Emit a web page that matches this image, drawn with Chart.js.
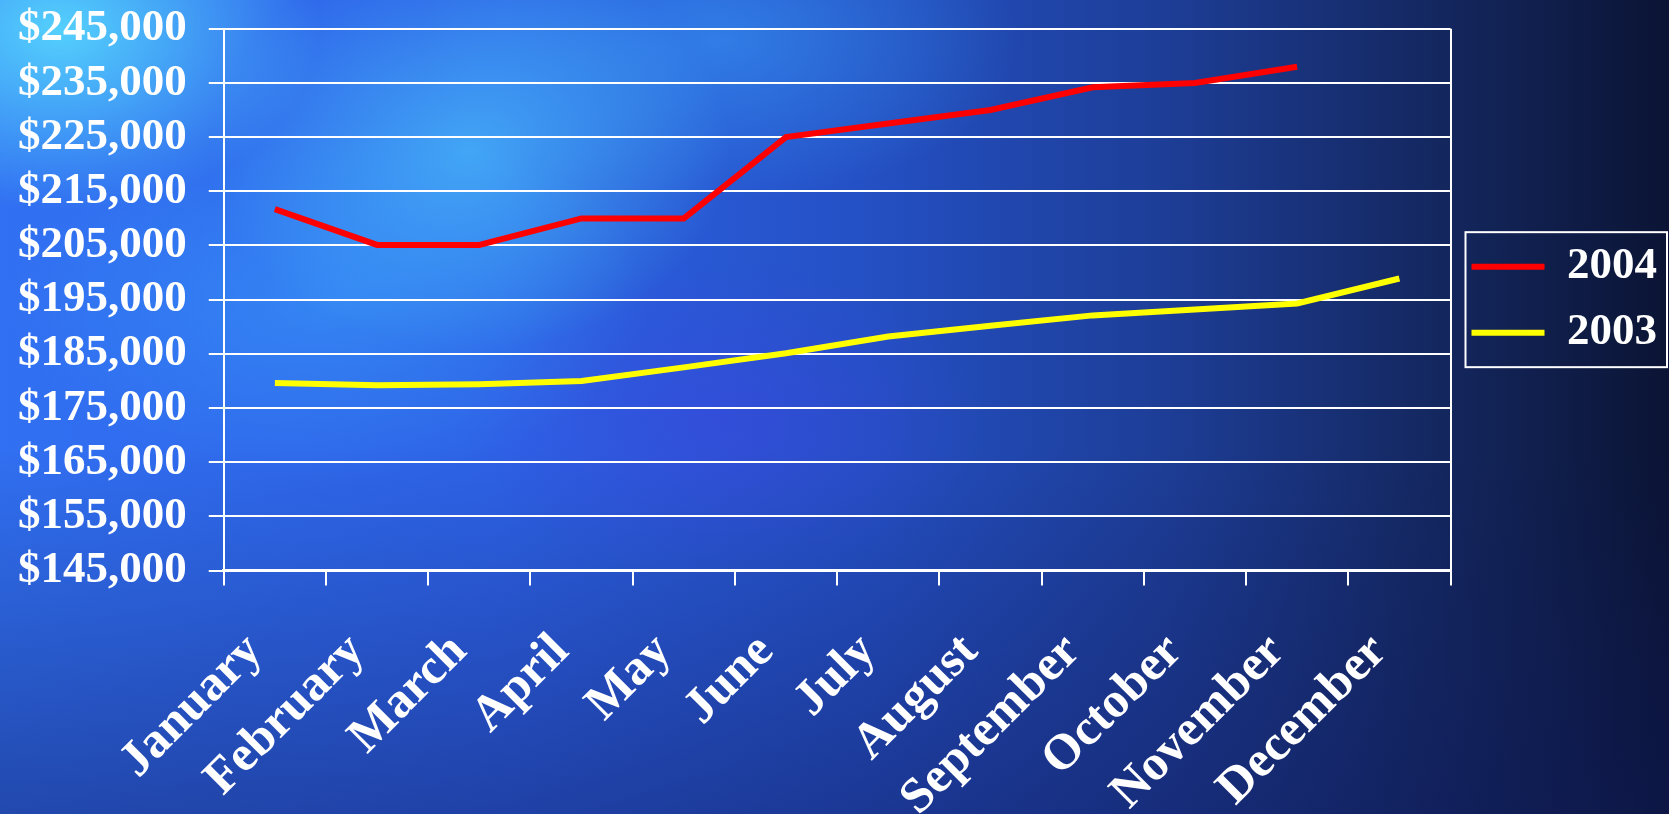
<!DOCTYPE html>
<html>
<head>
<meta charset="utf-8">
<title>Monthly values 2003 vs 2004</title>
<script src="https://cdn.jsdelivr.net/npm/chart.js@4.4.1/dist/chart.umd.min.js"></script>
<style>
  html, body { margin: 0; padding: 0; }
  body {
    width: 1669px; height: 814px; overflow: hidden;
    background:
      radial-gradient(ellipse 260px 180px at 60px 30px, rgba(90,225,255,.85), rgba(90,225,255,0)),
      radial-gradient(ellipse 260px 200px at 470px 150px, rgba(80,210,255,.6), rgba(80,210,255,0)),
      radial-gradient(ellipse 320px 180px at 330px 300px, rgba(60,170,255,.45), rgba(60,170,255,0)),
      radial-gradient(ellipse 300px 160px at 720px 40px, rgba(60,170,255,.45), rgba(60,170,255,0)),
      radial-gradient(ellipse 260px 160px at 720px 420px, rgba(70,60,230,.35), rgba(70,60,230,0)),
      linear-gradient(to bottom, rgba(0,0,0,0) 55%, rgba(15,25,90,.45) 100%),
      linear-gradient(to right, #3170f2 0%, #2d62e6 30%, #2450c4 52%, #1d3d96 70%, #152a66 84%, #0b1434 100%);
  }
  #wrap { position: absolute; left: 0; top: 0; width: 1669px; height: 814px; }
</style>
</head>
<body>
<div id="wrap"><canvas id="chart"></canvas></div>
<script>
/* chart data */
const MONTHS = ['January', 'February', 'March', 'April', 'May', 'June',
                'July', 'August', 'September', 'October', 'November', 'December'];
const SERIES_2004 = [211700, 205100, 205100, 210000, 210000, 225000,
                     227500, 230000, 234200, 235000, 238000, null];
const SERIES_2003 = [179600, 179200, 179400, 180000, 182500, 185100,
                     188200, 190200, 192100, 193200, 194300, 198900];
const Y_MIN = 145000, Y_MAX = 245000, Y_STEP = 10000;

const FONT = "'Liberation Serif', 'Times New Roman', serif";

/* draws a white frame round the legend items */
const legendFrame = {
  id: 'legendFrame',
  afterDraw(chart) {
    const boxes = chart.legend && chart.legend.legendHitBoxes;
    if (!boxes || !boxes.length) return;
    const l = Math.min(...boxes.map(b => b.left)) - 6;
    const r = Math.max(...boxes.map(b => b.left + b.width)) + 10;
    const t = Math.min(...boxes.map(b => b.top)) - 12;
    const bt = Math.max(...boxes.map(b => b.top + b.height)) + 12;
    const ctx = chart.ctx;
    ctx.save();
    ctx.strokeStyle = '#fff';
    ctx.lineWidth = 2;
    ctx.strokeRect(l, t, r - l, bt - t);
    ctx.restore();
  }
};

new Chart(document.getElementById('chart'), {
  type: 'line',
  data: {
    labels: MONTHS,
    datasets: [
      { label: '2004', data: SERIES_2004, borderColor: '#ff0000', backgroundColor: '#ff0000',
        borderWidth: 6, pointRadius: 0, tension: 0, spanGaps: false },
      { label: '2003', data: SERIES_2003, borderColor: '#ffff00', backgroundColor: '#ffff00',
        borderWidth: 6, pointRadius: 0, tension: 0 }
    ]
  },
  options: {
    responsive: true,
    maintainAspectRatio: false,
    animation: false,
    // y tick padding is counted twice by the axis, the negative left takes one back
    layout: { padding: { left: -4, right: 2, top: 0, bottom: -51 } },
    plugins: {
      legend: {
        position: 'right',
        fullSize: false,
        labels: {
          color: '#fff', font: { family: FONT, size: 45, weight: 'bold' },
          usePointStyle: true, pointStyle: 'line', pointStyleWidth: 73, padding: 21
        }
      },
      tooltip: { enabled: false }
    },
    scales: {
      x: {
        offset: true,
        // rotated labels sit inside the canvas already, no extra side room needed
        afterFit: s => { s.paddingLeft = 0; s.paddingRight = 0; },
        grid: {
          offset: true, lineWidth: 2, tickLength: 15, tickColor: '#fff', tickWidth: 2,
          color: c => (c.type === 'tick' && c.index > 0) ? 'rgba(0,0,0,0)' : '#fff'
        },
        border: { color: '#fff', width: 3 },
        ticks: {
          color: '#fff', font: { family: FONT, size: 50, weight: 'bold' },
          minRotation: 45, maxRotation: 45, autoSkip: false, padding: 37, labelOffset: -20
        }
      },
      y: {
        min: Y_MIN, max: Y_MAX,
        grid: { color: '#fff', lineWidth: 2, tickLength: 15, tickWidth: 2 },
        border: { color: '#fff', width: 2 },
        ticks: {
          stepSize: Y_STEP, color: '#fff', padding: 22, autoSkip: false,
          font: { family: FONT, size: 45, weight: 'bold', lineHeight: 0.3 },
          callback: v => '$' + Number(v).toLocaleString('en-US')
        }
      }
    }
  },
  plugins: [legendFrame]
});
</script>
</body>
</html>
